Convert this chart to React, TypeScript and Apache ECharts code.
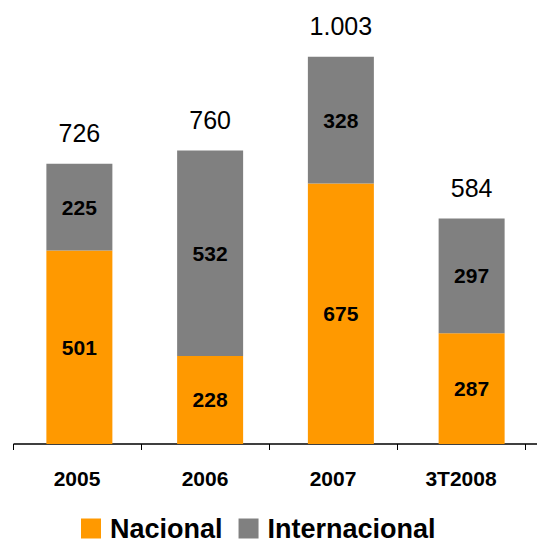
import React, { useEffect, useRef } from "react";
import * as echarts from "echarts";

const categories = ["2005", "2006", "2007", "3T2008"];
const nacional = [501, 228, 675, 287];
const internacional = [225, 532, 328, 297];
const totals = ["726", "760", "1.003", "584"];

const FONT = "Liberation Sans, Arial, sans-serif";

export default function App() {
  const ref = useRef<HTMLDivElement>(null);

  useEffect(() => {
    if (!ref.current) return;
    document.body.style.margin = "0";
    const chart = echarts.init(ref.current, null, { renderer: "svg" });
    const segLabel = {
      show: true,
      position: "inside",
      fontFamily: FONT,
      fontWeight: "bold",
      fontSize: 21,
      color: "#000",
    };
    chart.setOption({
      animation: false,
      grid: [
        // axis ticks and category labels
        { left: 13, width: 512, top: 0, height: 444 },
        // bars
        { left: 14, width: 525, top: 0, height: 444 },
      ],
      legend: {
        top: 515,
        left: 81,
        padding: 0,
        itemWidth: 20,
        itemHeight: 20,
        itemGap: 16,
        icon: "rect",
        textStyle: {
          fontFamily: FONT,
          fontWeight: "bold",
          fontSize: 27,
          lineHeight: 20,
          color: "#000",
          padding: [0, 0, 0, 4],
        },
        data: ["Nacional", "Internacional"],
      },
      xAxis: [
        {
          type: "category",
          gridIndex: 0,
          data: categories,
          axisLine: { show: false },
          axisTick: { show: true, length: 6, lineStyle: { color: "#000", width: 1 } },
          axisLabel: {
            margin: 24,
            fontFamily: FONT,
            fontWeight: "bold",
            fontSize: 21,
            color: "#000",
          },
        },
        {
          type: "category",
          gridIndex: 1,
          data: categories,
          axisLine: { show: true, lineStyle: { color: "#000", width: 1.5 } },
          axisTick: { show: false },
          axisLabel: { show: false },
        },
      ],
      yAxis: [
        { type: "value", gridIndex: 0, min: 0, max: 1150, show: false, splitLine: { show: false } },
        { type: "value", gridIndex: 1, min: 0, max: 1150, show: false, splitLine: { show: false } },
      ],
      series: [
        {
          name: "Nacional",
          type: "bar",
          xAxisIndex: 1,
          yAxisIndex: 1,
          stack: "total",
          barWidth: 66,
          data: nacional,
          itemStyle: { color: "#FF9900" },
          label: segLabel,
        },
        {
          name: "Internacional",
          type: "bar",
          xAxisIndex: 1,
          yAxisIndex: 1,
          stack: "total",
          barWidth: 66,
          data: internacional,
          itemStyle: { color: "#808080" },
          label: segLabel,
        },
        {
          name: "Total",
          type: "bar",
          xAxisIndex: 1,
          yAxisIndex: 1,
          stack: "total",
          barWidth: 66,
          data: categories.map(() => 0),
          itemStyle: { color: "transparent" },
          silent: true,
          label: {
            show: true,
            position: "top",
            distance: 18,
            formatter: (p: any) => totals[p.dataIndex],
            fontFamily: FONT,
            fontSize: 25,
            color: "#000",
          },
        },
      ],
    });
    return () => chart.dispose();
  }, []);

  return <div ref={ref} style={{ width: 537, height: 543 }} />;
}
